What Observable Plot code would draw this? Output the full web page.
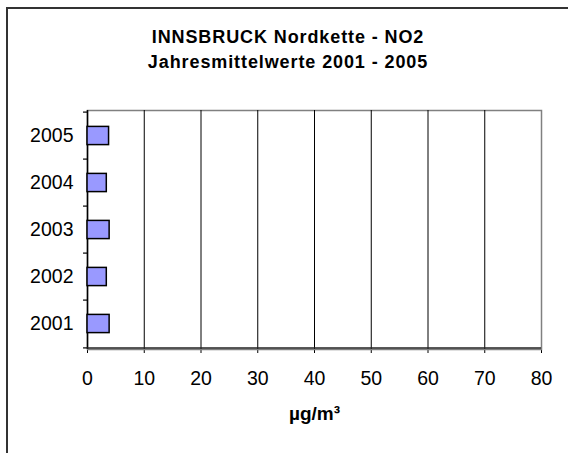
<!DOCTYPE html>
<html>
<head>
<meta charset="utf-8">
<script src="https://cdn.jsdelivr.net/npm/d3@7"></script>
<script src="https://cdn.jsdelivr.net/npm/@observablehq/plot@0.6"></script>
<style>
  html, body { margin: 0; padding: 0; background: #fff; }
  #wrap { position: relative; width: 568px; height: 453px; overflow: hidden; font-family: "Liberation Sans", Arial, sans-serif; }
  #border { position: absolute; left: 6px; top: 7px; width: 600px; height: 500px; border-left: 2px solid #333; border-top: 2px solid #333; }
  .title { position: absolute; left: 6px; width: 564px; text-align: center; font-weight: bold; font-size: 18px; color: #000; letter-spacing: 0.9px; }
  #chart { position: absolute; left: 0; top: 0; }
</style>
</head>
<body>
<div id="wrap">
  <div id="border"></div>
  <div id="chart"></div>
  <div class="title" style="top:27px">INNSBRUCK Nordkette - NO2</div>
  <div class="title" style="top:52px">Jahresmittelwerte 2001 - 2005</div>
</div>
<script>
const years = ["2001", "2002", "2003", "2004", "2005"];
const values = [3.9, 3.4, 3.9, 3.4, 3.8];
const xTicks = [0, 10, 20, 30, 40, 50, 60, 70, 80];
const gridTicks = [10, 20, 30, 40, 50, 60, 70];
const xLabel = "µg/m³";

const data = years.map((y, i) => ({year: y, value: values[i]}));
const yDomain = years.slice().reverse();

const W = 568, H = 453;
const mTop = 110, mBottom = 104, mLeft = 87, mRight = 27;
const step = (H - mTop - mBottom) / years.length;

const chart = Plot.plot({
  width: W,
  height: H,
  marginTop: mTop,
  marginBottom: mBottom,
  marginLeft: mLeft,
  marginRight: mRight,
  style: {fontFamily: "'Liberation Sans', Arial, sans-serif", fontSize: "19.5px", color: "#000", background: "transparent"},
  x: {domain: [0, 80], ticks: xTicks, tickSize: 4, tickPadding: 18, label: null, tickFormat: d => String(d)},
  y: {domain: yDomain, padding: 0, tickSize: 0, tickPadding: 14, label: null},
  marks: [
    Plot.frame({stroke: "#808080", strokeWidth: 1.5}),
    Plot.ruleX(gridTicks, {stroke: "#000", strokeWidth: 1}),
    Plot.ruleX([0], {stroke: "#000", strokeWidth: 1.5}),
    Plot.ruleY(yDomain, {y: d => d, x1: -0.7, x2: 0, dy: -step / 2, stroke: "#000", strokeWidth: 1.2}),
    Plot.ruleY([years[0]], {y: d => d, x1: -0.7, x2: 0, dy: step / 2, stroke: "#000", strokeWidth: 1.2}),
    Plot.ruleY([years[0]], {y: d => d, x1: 0, x2: 80, dy: step / 2, stroke: "#222", strokeWidth: 1.5}),
    Plot.barX(data, {y: "year", x: "value", fill: "#9999ff", stroke: "#000", strokeWidth: 1.5, insetTop: 14.4, insetBottom: 14.4}),
    Plot.text([xLabel], {frameAnchor: "bottom", dy: 70, text: d => d, fontWeight: "bold", fontSize: 19, fill: "#000", letterSpacing: "1px"})
  ]
});
document.getElementById("chart").appendChild(chart);
</script>
</body>
</html>
